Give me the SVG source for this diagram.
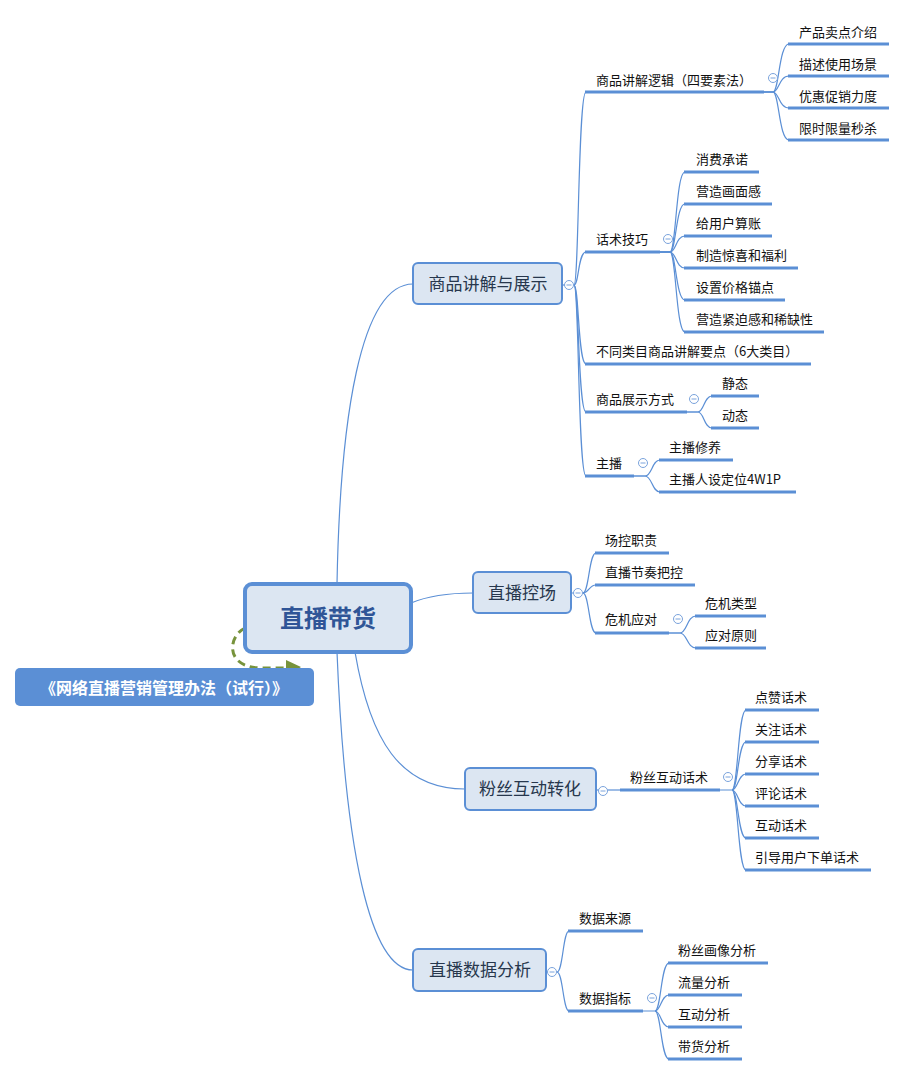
<svg xmlns="http://www.w3.org/2000/svg" width="907" height="1076" viewBox="0 0 907 1076">
<style>
.bg{fill:#ffffff}
.c{fill:none;stroke:#5b8fd5;stroke-width:1.2}
.u{stroke:#5b8fd5;stroke-width:3;stroke-linecap:butt}
.t{font-family:"Noto Sans CJK SC","Liberation Sans",sans-serif;font-size:13px;fill:#111111}
.n1 rect{fill:#dce6f2;stroke:#5b8fd5;stroke-width:2}
.n1 text{font-family:"Noto Sans CJK SC","Liberation Sans",sans-serif;font-size:17px;fill:#27374d;text-anchor:middle}
</style>
<defs>
<g id="tog"><circle cx="0" cy="0" r="4.5" fill="#ffffff" stroke="#7aa3dc" stroke-width="1"/><line x1="-2.5" y1="0" x2="2.5" y2="0" stroke="#7aa3dc" stroke-width="1"/></g>
</defs>
<rect class="bg" x="0" y="0" width="907" height="1076"/>
<g id="connectors">
<path class="c" d="M337,584 C340,420 360,284 413,284"/>
<path class="c" d="M411,603 C430,595 450,593 473,593"/>
<path class="c" d="M355,652 C370,740 400,789 465,789"/>
<path class="c" d="M337,652 C345,850 370,970 413,970"/>
<path class="c" d="M562,285 L574,285"/>
<path class="c" d="M574,285 C579,285 578,92 586,92"/>
<path class="c" d="M574,285 C579,285 578,252 586,252"/>
<path class="c" d="M574,285 C579,285 578,364 586,364"/>
<path class="c" d="M574,285 C579,285 578,412 586,412"/>
<path class="c" d="M574,285 C579,285 578,476 586,476"/>
<path class="c" d="M764,92 L773,92 C779,92 779,44 789,44"/>
<path class="c" d="M764,92 L773,92 C779,92 779,76 789,76"/>
<path class="c" d="M764,92 L773,92 C779,92 779,108 789,108"/>
<path class="c" d="M764,92 L773,92 C779,92 779,140 789,140"/>
<path class="c" d="M660,252 L670,252 C676,252 676,172 685,172"/>
<path class="c" d="M660,252 L670,252 C676,252 676,204 685,204"/>
<path class="c" d="M660,252 L670,252 C676,252 676,236 685,236"/>
<path class="c" d="M660,252 L670,252 C676,252 676,268 685,268"/>
<path class="c" d="M660,252 L670,252 C676,252 676,300 685,300"/>
<path class="c" d="M660,252 L670,252 C676,252 676,332 685,332"/>
<path class="c" d="M687,412 L698,412 C704,412 704,396 712,396"/>
<path class="c" d="M687,412 L698,412 C704,412 704,428 712,428"/>
<path class="c" d="M634,476 L645,476 C652,476 652,460 660,460"/>
<path class="c" d="M634,476 L645,476 C652,476 652,492 660,492"/>
<path class="c" d="M571,593 L583,593 C589,593 589,553 596,553"/>
<path class="c" d="M583,593 C589,593 589,585 596,585"/>
<path class="c" d="M583,593 C589,593 589,633 596,633"/>
<path class="c" d="M669,633 L680,633 C687,633 687,616 696,616"/>
<path class="c" d="M669,633 L680,633 C687,633 687,648 696,648"/>
<path class="c" d="M596,790 L620,790"/>
<path class="c" d="M720,790 L732,790 C738,790 738,710 746,710"/>
<path class="c" d="M732,790 C738,790 738,742 746,742"/>
<path class="c" d="M732,790 C738,790 738,774 746,774"/>
<path class="c" d="M732,790 C738,790 738,806 746,806"/>
<path class="c" d="M732,790 C738,790 738,838 746,838"/>
<path class="c" d="M732,790 C738,790 738,870 746,870"/>
<path class="c" d="M546,972 L557,972 C563,972 563,931 569,931"/>
<path class="c" d="M557,972 C563,972 563,1011 569,1011"/>
<path class="c" d="M643,1011 L655,1011 C661,1011 661,963 669,963"/>
<path class="c" d="M655,1011 C661,1011 661,995 669,995"/>
<path class="c" d="M655,1011 C661,1011 661,1027 669,1027"/>
<path class="c" d="M655,1011 C661,1011 661,1059 669,1059"/>
<path d="M245,628 C228,636 224,668 262,668 L287,668" fill="none" stroke="#77933c" stroke-width="3" stroke-dasharray="8,5"/>
<polygon points="286,660 301,667 286,677" fill="#77933c"/>
</g>
<g id="root">
<rect x="245" y="584" width="166" height="68" rx="7" fill="#dce6f2" stroke="#5b8fd5" stroke-width="4"/>
<text x="328" y="627" text-anchor="middle" font-family="'Noto Sans CJK SC','Liberation Sans',sans-serif" font-size="24" font-weight="bold" fill="#2f5597">直播带货</text>
</g>
<g id="law">
<rect x="15" y="668" width="299" height="38" rx="5" fill="#5b8fd5"/>
<text x="164" y="694" text-anchor="middle" font-family="'Noto Sans CJK SC','Liberation Sans',sans-serif" font-size="16" font-weight="bold" fill="#ffffff">《网络直播营销管理办法（试行）》</text>
</g>
<g id="n-product" class="n1">
<rect x="413" y="263" width="149" height="41" rx="5"/>
<text x="488" y="290">商品讲解与展示</text>
</g>
<g id="n-control" class="n1">
<rect x="473" y="572" width="98" height="41" rx="5"/>
<text x="522" y="599">直播控场</text>
</g>
<g id="n-fans" class="n1">
<rect x="465" y="768" width="131" height="42" rx="5"/>
<text x="530" y="795">粉丝互动转化</text>
</g>
<g id="n-data" class="n1">
<rect x="413" y="949" width="133" height="42" rx="5"/>
<text x="480" y="976">直播数据分析</text>
</g>
<g id="toggles">
<use href="#tog" x="569" y="285"/>
<use href="#tog" x="773" y="78"/>
<use href="#tog" x="668" y="239"/>
<use href="#tog" x="694" y="399"/>
<use href="#tog" x="643" y="463"/>
<use href="#tog" x="578" y="593"/>
<use href="#tog" x="678" y="619"/>
<use href="#tog" x="603" y="791"/>
<use href="#tog" x="728" y="777"/>
<use href="#tog" x="552" y="972"/>
<use href="#tog" x="652" y="998"/>
</g>
<g id="n-logic"><line class="u" x1="585" y1="92" x2="764" y2="92"/><text class="t" x="596" y="85">商品讲解逻辑（四要素法）</text></g>
<g id="n-l1"><line class="u" x1="788" y1="44" x2="889" y2="44"/><text class="t" x="799" y="37">产品卖点介绍</text></g>
<g id="n-l2"><line class="u" x1="788" y1="76" x2="889" y2="76"/><text class="t" x="799" y="69">描述使用场景</text></g>
<g id="n-l3"><line class="u" x1="788" y1="108" x2="889" y2="108"/><text class="t" x="799" y="101">优惠促销力度</text></g>
<g id="n-l4"><line class="u" x1="788" y1="140" x2="889" y2="140"/><text class="t" x="799" y="133">限时限量秒杀</text></g>
<g id="n-speech"><line class="u" x1="585" y1="252" x2="660" y2="252"/><text class="t" x="596" y="244">话术技巧</text></g>
<g id="n-s1"><line class="u" x1="684" y1="172" x2="759" y2="172"/><text class="t" x="696" y="164">消费承诺</text></g>
<g id="n-s2"><line class="u" x1="684" y1="204" x2="772" y2="204"/><text class="t" x="696" y="196">营造画面感</text></g>
<g id="n-s3"><line class="u" x1="684" y1="236" x2="772" y2="236"/><text class="t" x="696" y="228">给用户算账</text></g>
<g id="n-s4"><line class="u" x1="684" y1="268" x2="798" y2="268"/><text class="t" x="696" y="260">制造惊喜和福利</text></g>
<g id="n-s5"><line class="u" x1="684" y1="300" x2="785" y2="300"/><text class="t" x="696" y="292">设置价格锚点</text></g>
<g id="n-s6"><line class="u" x1="684" y1="332" x2="824" y2="332"/><text class="t" x="696" y="324">营造紧迫感和稀缺性</text></g>
<g id="n-cat"><line class="u" x1="585" y1="364" x2="811" y2="364"/><text class="t" x="596" y="356">不同类目商品讲解要点（6大类目）</text></g>
<g id="n-show"><line class="u" x1="585" y1="412" x2="687" y2="412"/><text class="t" x="596" y="404">商品展示方式</text></g>
<g id="n-sh1"><line class="u" x1="711" y1="396" x2="759" y2="396"/><text class="t" x="722" y="388">静态</text></g>
<g id="n-sh2"><line class="u" x1="711" y1="428" x2="759" y2="428"/><text class="t" x="722" y="420">动态</text></g>
<g id="n-host"><line class="u" x1="585" y1="476" x2="634" y2="476"/><text class="t" x="596" y="468">主播</text></g>
<g id="n-h1"><line class="u" x1="659" y1="460" x2="733" y2="460"/><text class="t" x="669" y="452">主播修养</text></g>
<g id="n-h2"><line class="u" x1="659" y1="492" x2="796" y2="492"/><text class="t" x="669" y="484">主播人设定位4W1P</text></g>
<g id="n-c1"><line class="u" x1="595" y1="553" x2="669" y2="553"/><text class="t" x="605" y="545">场控职责</text></g>
<g id="n-c2"><line class="u" x1="595" y1="585" x2="695" y2="585"/><text class="t" x="605" y="577">直播节奏把控</text></g>
<g id="n-c3"><line class="u" x1="595" y1="633" x2="669" y2="633"/><text class="t" x="605" y="624">危机应对</text></g>
<g id="n-c31"><line class="u" x1="695" y1="616" x2="766" y2="616"/><text class="t" x="705" y="608">危机类型</text></g>
<g id="n-c32"><line class="u" x1="695" y1="648" x2="766" y2="648"/><text class="t" x="705" y="640">应对原则</text></g>
<g id="n-f"><line class="u" x1="620" y1="790" x2="720" y2="790"/><text class="t" x="630" y="782">粉丝互动话术</text></g>
<g id="n-f1"><line class="u" x1="745" y1="710" x2="819" y2="710"/><text class="t" x="755" y="702">点赞话术</text></g>
<g id="n-f2"><line class="u" x1="745" y1="742" x2="819" y2="742"/><text class="t" x="755" y="734">关注话术</text></g>
<g id="n-f3"><line class="u" x1="745" y1="774" x2="819" y2="774"/><text class="t" x="755" y="766">分享话术</text></g>
<g id="n-f4"><line class="u" x1="745" y1="806" x2="819" y2="806"/><text class="t" x="755" y="798">评论话术</text></g>
<g id="n-f5"><line class="u" x1="745" y1="838" x2="819" y2="838"/><text class="t" x="755" y="830">互动话术</text></g>
<g id="n-f6"><line class="u" x1="745" y1="870" x2="871" y2="870"/><text class="t" x="755" y="862">引导用户下单话术</text></g>
<g id="n-d1"><line class="u" x1="568" y1="931" x2="643" y2="931"/><text class="t" x="579" y="923">数据来源</text></g>
<g id="n-d2"><line class="u" x1="568" y1="1011" x2="643" y2="1011"/><text class="t" x="579" y="1003">数据指标</text></g>
<g id="n-d21"><line class="u" x1="668" y1="963" x2="768" y2="963"/><text class="t" x="678" y="955">粉丝画像分析</text></g>
<g id="n-d22"><line class="u" x1="668" y1="995" x2="742" y2="995"/><text class="t" x="678" y="987">流量分析</text></g>
<g id="n-d23"><line class="u" x1="668" y1="1027" x2="742" y2="1027"/><text class="t" x="678" y="1019">互动分析</text></g>
<g id="n-d24"><line class="u" x1="668" y1="1059" x2="742" y2="1059"/><text class="t" x="678" y="1051">带货分析</text></g>
</svg>
